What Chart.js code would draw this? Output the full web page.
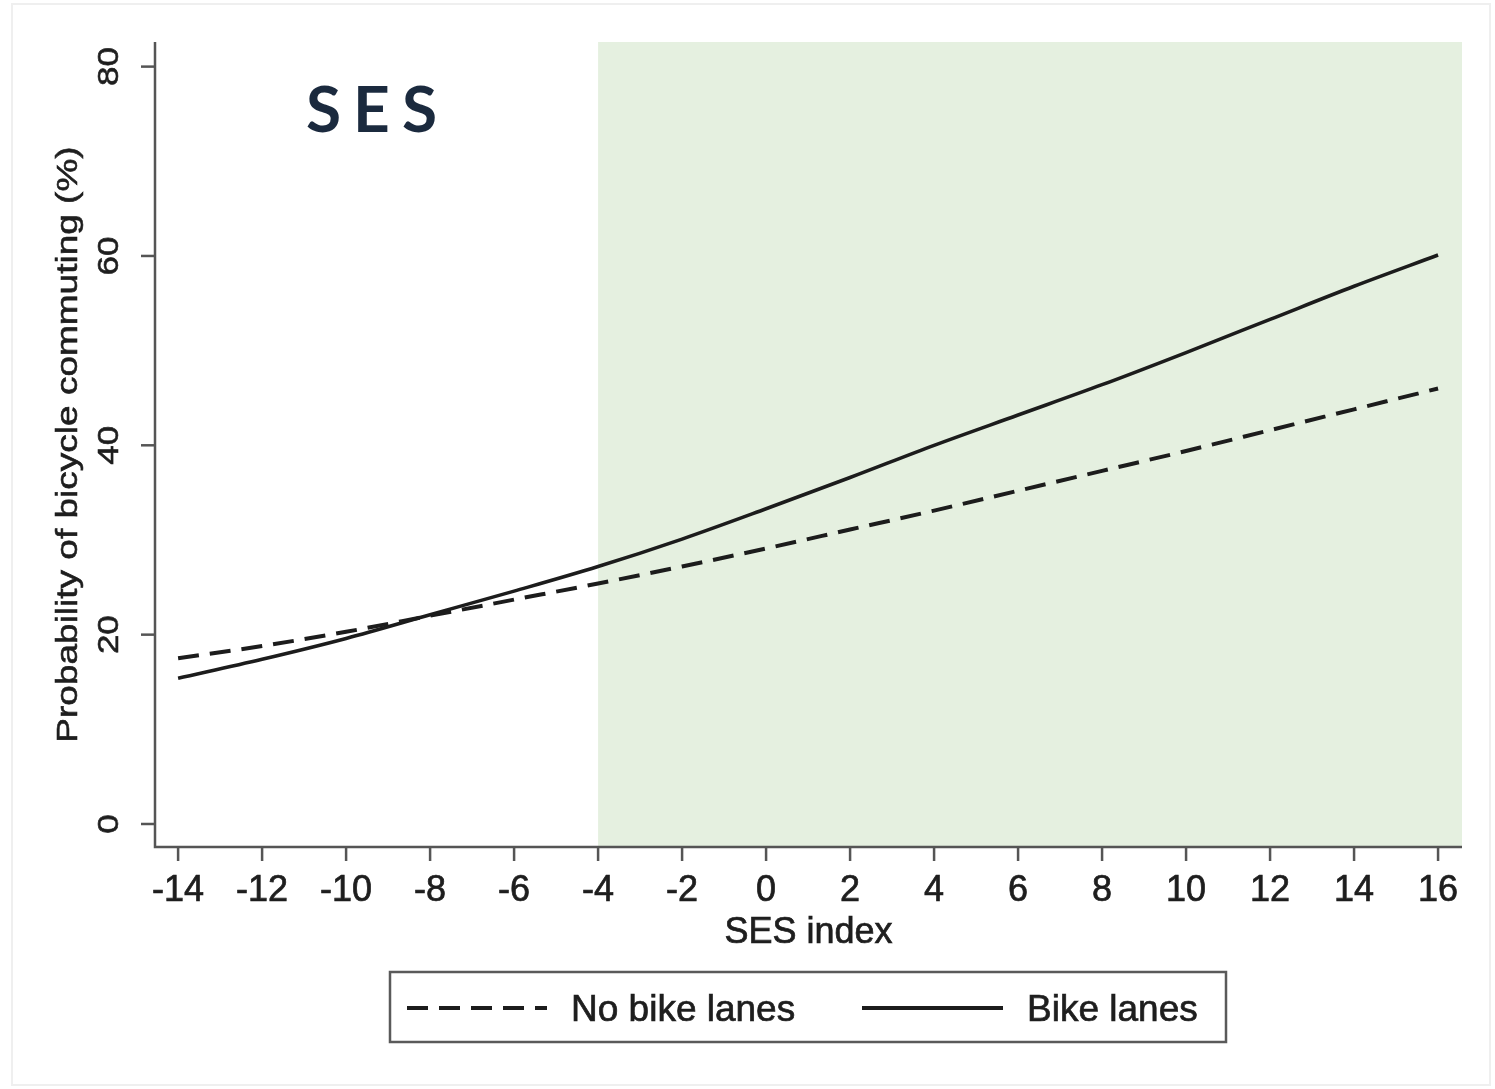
<!DOCTYPE html>
<html>
<head>
<meta charset="utf-8">
<title>Probability of bicycle commuting by SES index</title>
<script src="https://cdn.jsdelivr.net/npm/chart.js@4.4.1/dist/chart.umd.min.js"></script>
<style>
  html, body { margin: 0; padding: 0; background: #ffffff; }
  #wrap { position: relative; width: 1495px; height: 1089px; }
</style>
</head>
<body>
<div id="wrap"><canvas id="chart"></canvas></div>
<script>
// SES index values at which the predicted probabilities are given
const sesIndex = [-14, -12, -10, -8, -6, -4, -2, 0, 2, 4, 6, 8, 10, 12, 14, 16];
// Predicted probability of bicycle commuting (%)
const noBikeLanes = [17.5, 18.8, 20.3, 22.0, 23.7, 25.4, 27.2, 29.1, 31.1, 33.1, 35.2, 37.3, 39.4, 41.6, 43.8, 46.0];
const bikeLanes   = [15.4, 17.4, 19.6, 22.1, 24.6, 27.2, 30.1, 33.3, 36.6, 40.0, 43.2, 46.4, 49.8, 53.3, 56.8, 60.1];
// Axis ticks
const xTickValues = [-14, -12, -10, -8, -6, -4, -2, 0, 2, 4, 6, 8, 10, 12, 14, 16];
const yTickValues = [0, 20, 40, 60, 80];
// Highlighted SES range starts here
const shadeFrom = -4;
const seriesNames = ['No bike lanes', 'Bike lanes'];

const FONT = '"Liberation Sans", Arial, Helvetica, sans-serif';
const AXIS_COLOR = '#555555';
const TEXT_COLOR = '#1e1e1e';
const LINE_COLOR = '#1c1c1c';
const DASH = [21, 11];

const toPoints = (ys) => sesIndex.map((x, i) => ({ x: x, y: ys[i] }));

// fill plus a hairline stroke gives the slightly heavier text weight
function heavyText(ctx, text, x, y) {
  ctx.fillText(text, x, y);
  ctx.strokeText(text, x, y);
}

const decor = {
  id: 'decor',
  beforeDatasetsDraw(chart) {
    const { ctx, chartArea: a, scales: { x } } = chart;
    const x0 = x.getPixelForValue(shadeFrom);
    ctx.save();
    ctx.fillStyle = '#e5f0e0';
    ctx.fillRect(x0, a.top, a.right - x0, a.bottom - a.top);
    ctx.restore();
  },
  afterDraw(chart) {
    const { ctx, chartArea: a, scales: { x, y } } = chart;
    ctx.save();

    // faint outer frame
    ctx.strokeStyle = '#efefef';
    ctx.lineWidth = 2;
    ctx.strokeRect(12, 4, 1478, 1081);

    // axis lines
    ctx.strokeStyle = AXIS_COLOR;
    ctx.lineWidth = 2.5;
    ctx.beginPath();
    ctx.moveTo(a.left, a.top);
    ctx.lineTo(a.left, a.bottom);
    ctx.lineTo(a.right, a.bottom);
    ctx.stroke();

    // x ticks
    xTickValues.forEach(v => {
      const px = x.getPixelForValue(v);
      ctx.beginPath();
      ctx.moveTo(px, a.bottom);
      ctx.lineTo(px, a.bottom + 14);
      ctx.stroke();
    });
    // y ticks
    yTickValues.forEach(v => {
      const py = y.getPixelForValue(v);
      ctx.beginPath();
      ctx.moveTo(a.left, py);
      ctx.lineTo(a.left - 14, py);
      ctx.stroke();
    });

    // text
    ctx.fillStyle = TEXT_COLOR;
    ctx.strokeStyle = TEXT_COLOR;
    ctx.lineWidth = 0.7;
    ctx.font = '36px ' + FONT;
    ctx.textAlign = 'center';
    ctx.textBaseline = 'alphabetic';
    xTickValues.forEach(v => {
      heavyText(ctx, String(v), x.getPixelForValue(v), 901);
    });
    heavyText(ctx, 'SES index', (a.left + a.right) / 2, 943);

    yTickValues.forEach(v => {
      const py = y.getPixelForValue(v);
      ctx.save();
      ctx.translate(118, py);
      ctx.scale(0.82, 1);
      ctx.rotate(-Math.PI / 2);
      ctx.font = '35px ' + FONT;
      heavyText(ctx, String(v), 0, 0);
      ctx.restore();
    });
    ctx.save();
    ctx.translate(77, (a.top + a.bottom) / 2);
    ctx.scale(0.82, 1);
    ctx.rotate(-Math.PI / 2);
    ctx.font = '37px ' + FONT;
    heavyText(ctx, 'Probability of bicycle commuting (%)', 0, 0);
    ctx.restore();

    // legend box
    ctx.strokeStyle = '#5a5a5a';
    ctx.lineWidth = 2.5;
    ctx.strokeRect(390, 972, 836, 70);
    const ly = 1008;
    ctx.strokeStyle = LINE_COLOR;
    ctx.lineWidth = 4;
    ctx.setLineDash(DASH);
    ctx.beginPath();
    ctx.moveTo(407, ly);
    ctx.lineTo(547, ly);
    ctx.stroke();
    ctx.setLineDash([]);
    ctx.beginPath();
    ctx.moveTo(862, ly);
    ctx.lineTo(1003, ly);
    ctx.stroke();
    ctx.strokeStyle = TEXT_COLOR;
    ctx.lineWidth = 0.7;
    ctx.font = '37px ' + FONT;
    ctx.textAlign = 'left';
    heavyText(ctx, seriesNames[0], 571, 1021);
    heavyText(ctx, seriesNames[1], 1027, 1021);

    // panel label with wide letter spacing
    ctx.fillStyle = '#1b2a3e';
    ctx.font = '700 64px Lato, "Open Sans", sans-serif';
    let cx = 306;
    for (const ch of 'SES') {
      ctx.fillText(ch, cx, 132);
      cx += ctx.measureText(ch).width + 12;
    }
    ctx.restore();
  }
};

new Chart(document.getElementById('chart'), {
  type: 'line',
  data: {
    datasets: [
      {
        label: seriesNames[0],
        data: toPoints(noBikeLanes),
        borderColor: LINE_COLOR,
        borderWidth: 4,
        borderDash: DASH,
        pointRadius: 0,
        cubicInterpolationMode: 'monotone',
        fill: false
      },
      {
        label: seriesNames[1],
        data: toPoints(bikeLanes),
        borderColor: LINE_COLOR,
        borderWidth: 3.5,
        pointRadius: 0,
        cubicInterpolationMode: 'monotone',
        fill: false
      }
    ]
  },
  options: {
    responsive: true,
    maintainAspectRatio: false,
    animation: false,
    layout: { padding: { left: 155, right: 33, top: 42, bottom: 242 } },
    scales: {
      x: { type: 'linear', min: -14.55, max: 16.57, display: false },
      y: { type: 'linear', min: -2.43, max: 82.6, display: false }
    },
    plugins: {
      legend: { display: false },
      tooltip: { enabled: false }
    }
  },
  plugins: [decor]
});
</script>
</body>
</html>
